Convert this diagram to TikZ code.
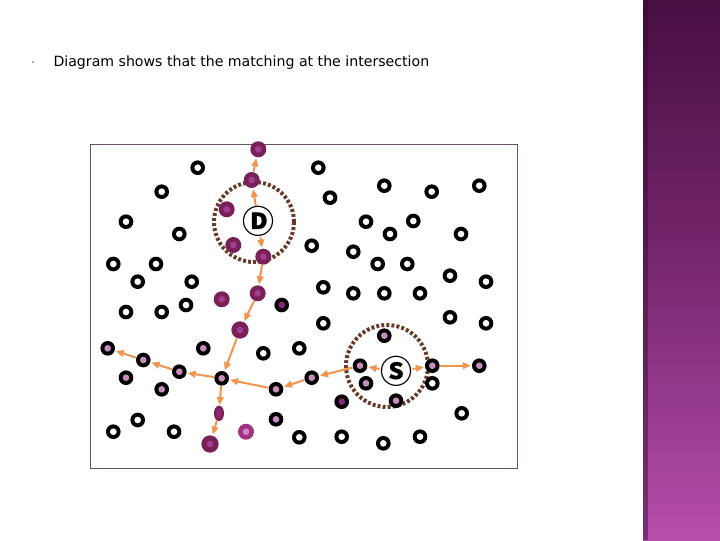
\documentclass[tikz,border=0pt]{standalone}
\usepackage{fontspec}
\setmainfont{DejaVu Sans}
\newfontfamily\circfont{Noto Sans CJK SC}
\usepackage{tikz}
\usetikzlibrary{arrows.meta,shapes.geometric}
\definecolor{bandtop}{RGB}{72,14,66}
\definecolor{bandmid}{RGB}{120,40,112}
\definecolor{bandbot}{RGB}{182,78,172}
\definecolor{pinkc}{RGB}{200,140,188}
\definecolor{darkc}{RGB}{135,38,125}
\definecolor{purpedge}{RGB}{122,32,88}
\definecolor{purpc}{RGB}{162,62,142}
\definecolor{magedge}{RGB}{160,50,128}
\definecolor{magc}{RGB}{212,132,196}
\tikzset{every picture/.style={line width=0.75pt}}
\tikzset{
  ring/.style 2 args={circle,inner sep=0pt,minimum size=11pt,fill=#1,
    path picture={\fill [#2] (path picture bounding box.center) circle (2.5pt);}},
  hole/.style={ring={black}{white}},
  pinkdot/.style={ring={black}{pinkc}},
  darkdot/.style={ring={black}{darkc}},
  purp/.style={ring={purpedge}{purpc},minimum size=12pt},
  bigpurp/.style={purp,minimum size=13pt},
  purppink/.style={ring={magedge}{magc},minimum size=12pt},
  pod/.style={ellipse,inner sep=0pt,minimum width=6pt,minimum height=10pt,line width=1.5pt,draw=purpedge,fill={rgb, 255:red, 140; green, 40; blue, 105 }},
  letter/.style={inner sep=0pt,font=\circfont\bfseries\fontsize{24}{25}\selectfont},
  link/.style={color={rgb, 255:red, 240; green, 148; blue, 78 },line width=1.5pt,-{Triangle[length=6pt,width=5pt]},shorten >=0.5pt},
  zone/.style={color={rgb, 255:red, 105; green, 58; blue, 40 },line width=3pt,dash pattern=on 2.2pt off 1.6pt}
}
\begin{document}
\begin{tikzpicture}[x=0.75pt,y=0.75pt,yscale=-1,xscale=1]
\useasboundingbox (0,0) rectangle (720,540);

%Shape: Rectangle [band]
\shade [top color=bandtop,bottom color=bandbot,middle color=bandmid] (643,0) rectangle (720,540);
\fill [color={rgb, 255:red, 50; green, 10; blue, 45 },opacity=0.45] (643,0) rectangle (648,540);

%Text
\fill [color={rgb, 255:red, 120; green, 120; blue, 120 }] (33,62) circle (1);
\node [anchor=west,inner sep=0pt,font=\fontsize{10.6}{12}\selectfont] (caption) at (53,63) {Diagram shows that the matching at the intersection};

%Shape: Rectangle [frame]
\draw [color={rgb, 255:red, 110; green, 80; blue, 100 }] (90,144) rectangle (517,468);

%Shape: Circle [zones]
\draw [zone] (254,222) circle (40);
\draw [zone] (387,366) circle (41);

%Shape: Circle [holes]
\node [hole] (h1) at (197.7,167.7) {};
\node [hole] (h2) at (161.7,191.7) {};
\node [hole] (h3) at (126,221.7) {};
\node [hole] (h4) at (179.3,234) {};
\node [hole] (h5) at (113.3,264) {};
\node [hole] (h6) at (156,264) {};
\node [hole] (h7) at (137.7,281.7) {};
\node [hole] (h8) at (191.7,281.7) {};
\node [hole] (h9) at (126,312) {};
\node [hole] (h10) at (161.7,312) {};
\node [hole] (h11) at (186,305) {};
\node [hole] (h12) at (318.3,167.7) {};
\node [hole] (h13) at (330,197.7) {};
\node [hole] (h14) at (384.3,185.7) {};
\node [hole] (h15) at (431.7,191.7) {};
\node [hole] (h16) at (479.3,185.7) {};
\node [hole] (h17) at (366,221.7) {};
\node [hole] (h18) at (413.3,221) {};
\node [hole] (h19) at (390,234) {};
\node [hole] (h20) at (461,234) {};
\node [hole] (h21) at (311.7,245.7) {};
\node [hole] (h22) at (353.3,251.7) {};
\node [hole] (h23) at (377.7,264) {};
\node [hole] (h24) at (407.3,264) {};
\node [hole] (h25) at (450,275.7) {};
\node [hole] (h26) at (486,281.7) {};
\node [hole] (h27) at (323.3,287.3) {};
\node [hole] (h28) at (353.3,293.3) {};
\node [hole] (h29) at (384.3,293.3) {};
\node [hole] (h30) at (420,293.3) {};
\node [hole] (h31) at (323.3,323.3) {};
\node [hole] (h32) at (450,317.3) {};
\node [hole] (h33) at (486,323.3) {};
\node [hole] (h34) at (263.3,353.3) {};
\node [hole] (h35) at (299.3,348.3) {};
\node [hole] (h36) at (137.7,420) {};
\node [hole] (h37) at (113.3,431.7) {};
\node [hole] (h38) at (174,431.7) {};
\node [hole] (h39) at (299.3,437.3) {};
\node [hole] (h40) at (432.3,383.3) {};
\node [hole] (h41) at (461.7,413.3) {};
\node [hole] (h42) at (341.7,436.7) {};
\node [hole] (h43) at (383.3,443.3) {};
\node [hole] (h44) at (420,436.7) {};

%Shape: Circle [pink dots]
\node [pinkdot] (p1) at (107.7,348.3) {};
\node [pinkdot] (p2) at (203.3,348.3) {};
\node [pinkdot] (p3) at (143.3,360) {};
\node [pinkdot] (p4) at (179.3,371.7) {};
\node [pinkdot] (p5) at (221.7,378.3) {};
\node [pinkdot] (p6) at (126,377.7) {};
\node [pinkdot] (p7) at (161.7,389.3) {};
\node [pinkdot] (p8) at (276,389.3) {};
\node [pinkdot] (p9) at (311.7,377.7) {};
\node [pinkdot] (p10) at (276,419.3) {};
\node [pinkdot] (p11) at (384.3,335.7) {};
\node [pinkdot] (p12) at (360,365.7) {};
\node [pinkdot] (p13) at (432.3,365.7) {};
\node [pinkdot] (p14) at (479.3,365.7) {};
\node [pinkdot] (p15) at (366,383.3) {};
\node [pinkdot] (p16) at (396,400.7) {};
\node [darkdot] (k1) at (281.7,305) {};
\node [darkdot] (k2) at (341.7,401.7) {};

%Shape: Circle [purple]
\node [purp] (u1) at (258.3,149.3) {};
\node [purp] (u2) at (251.7,180) {};
\node [purp] (u3) at (226.7,209.3) {};
\node [purp] (u4) at (233.3,245) {};
\node [purp] (u5) at (263.3,256.7) {};
\node [purp] (u6) at (257.7,293.3) {};
\node [purp] (u7) at (221.7,299.3) {};
\node [bigpurp] (u8) at (240,330) {};
\node [bigpurp] (u9) at (210,444) {};
\node [purppink] (u10) at (246,431.7) {};
\node [pod] (e1) at (219,413.3) {};

%Text [labels]
\node [letter] (D) at (258.3,221.7) {Ⓓ};
\node [letter] (S) at (396,371.7) {Ⓢ};

%Straight Lines [links]
\draw [link] (D) -- (u2);
\draw [link] (u2) -- (u1);
\draw [link] (D) -- (u5);
\draw [link] (u5) -- (u6);
\draw [link] (u6) -- (u8);
\draw [link] (u8) -- (p5);
\draw [link] (p5) -- (p4);
\draw [link] (p4) -- (p3);
\draw [link] (p3) -- (p1);
\draw [link] (p5) -- (e1);
\draw [link] (e1) -- (u9);
\draw [link] (p8) -- (p5);
\draw [link] (p9) -- (p8);
\draw [link] (p12) -- (p9);
\draw [link] (S) -- (p12);
\draw [link] (S) -- (p13);
\draw [link] (p13) -- (p14);

\end{tikzpicture}
\end{document}
